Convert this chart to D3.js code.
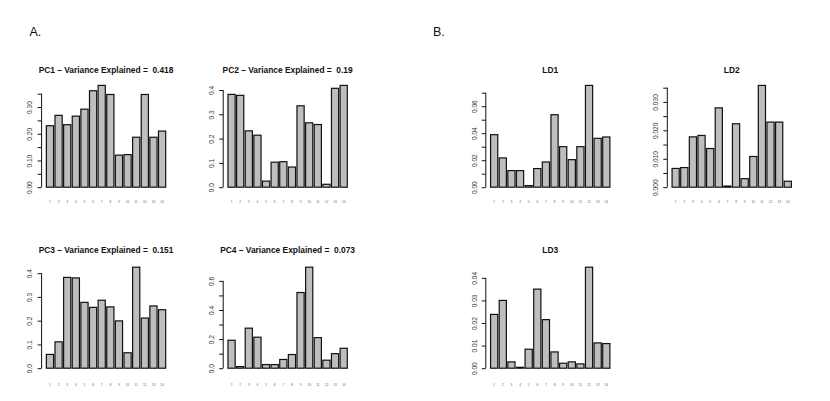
<!DOCTYPE html>
<html><head><meta charset="utf-8">
<script src="https://cdn.jsdelivr.net/npm/d3@7"></script>
<style>
html,body{margin:0;padding:0;background:#fff;}
svg{display:block;font-family:"Liberation Sans",Arial,Helvetica,sans-serif;}
text{white-space:pre;}
</style></head>
<body>
<svg id="chart" width="830" height="401"></svg>
<script>
// ---------- data ----------
const categories = ["1","2","3","4","5","6","7","8","9","10","11","12","13","14"];

const pc1 = [0.230,0.269,0.234,0.266,0.292,0.361,0.381,0.347,0.120,0.122,0.187,0.347,0.187,0.210];
const pc2 = [0.382,0.378,0.232,0.214,0.025,0.103,0.105,0.083,0.335,0.265,0.258,0.012,0.407,0.419];
const pc3 = [0.058,0.111,0.382,0.380,0.277,0.256,0.286,0.258,0.199,0.065,0.425,0.211,0.262,0.246];
const pc4 = [0.192,0.011,0.275,0.213,0.025,0.025,0.060,0.094,0.520,0.694,0.210,0.055,0.100,0.137];
const ld1 = [0.0389,0.0217,0.0123,0.0123,0.0012,0.0138,0.0187,0.0537,0.0300,0.0204,0.0300,0.0754,0.0362,0.0372];
const ld2 = [0.0066,0.0069,0.0177,0.0182,0.0136,0.0279,0.0004,0.0223,0.0030,0.0108,0.0358,0.0229,0.0229,0.0021];
const ld3 = [0.0238,0.0300,0.0028,0.0004,0.0084,0.0350,0.0215,0.0072,0.0022,0.0028,0.0019,0.0447,0.0112,0.0109];

const titles = ["PC1 \u2013 Variance Explained =  0.418","PC2 \u2013 Variance Explained =  0.19",
                "PC3 \u2013 Variance Explained =  0.151","PC4 \u2013 Variance Explained =  0.073",
                "LD1","LD2","LD3"];

const pc1Ticks = [0,0.05,0.10,0.15,0.20,0.25,0.30,0.35];
const pc1Labels = ["0.00",null,"0.10",null,"0.20",null,"0.30",null];
const pc2Ticks = [0,0.1,0.2,0.3,0.4];
const pc2Labels = ["0.0","0.1","0.2","0.3","0.4"];
const pc3Ticks = [0,0.1,0.2,0.3,0.4];
const pc3Labels = ["0.0","0.1","0.2","0.3","0.4"];
const pc4Ticks = [0,0.1,0.2,0.3,0.4,0.5,0.6];
const pc4Labels = ["0.0",null,"0.2",null,"0.4",null,"0.6"];
const ld1Ticks = [0,0.01,0.02,0.03,0.04,0.05,0.06,0.07];
const ld1Labels = ["0.00",null,"0.02",null,"0.04",null,"0.06",null];
const ld2Ticks = [0,0.005,0.010,0.015,0.020,0.025,0.030,0.035];
const ld2Labels = ["0.000",null,"0.010",null,"0.020",null,"0.030",null];
const ld3Ticks = [0,0.01,0.02,0.03,0.04];
const ld3Labels = ["0.00","0.01","0.02","0.03","0.04"];

const panelLetters = ["A.","B."];

// ---------- layout ----------
const rows = [{base:187.2, top:85.4, titleY:72.5, xLabY:202.3},
              {base:368.2, top:267.2, titleY:252.8, xLabY:384.4}];
const panels = [
  {v:pc1, ticks:pc1Ticks, labels:pc1Labels, title:titles[0], ax:41.6, row:0},
  {v:pc2, ticks:pc2Ticks, labels:pc2Labels, title:titles[1], ax:223.2, row:0},
  {v:pc3, ticks:pc3Ticks, labels:pc3Labels, title:titles[2], ax:41.6, row:1},
  {v:pc4, ticks:pc4Ticks, labels:pc4Labels, title:titles[3], ax:223.2, row:1},
  {v:ld1, ticks:ld1Ticks, labels:ld1Labels, title:titles[4], ax:485.8, row:0},
  {v:ld2, ticks:ld2Ticks, labels:ld2Labels, title:titles[5], ax:667.3, row:0},
  {v:ld3, ticks:ld3Ticks, labels:ld3Labels, title:titles[6], ax:485.8, row:1}
];
const unit = 7.187;  // px per bar unit
const svg = d3.select("#chart");

svg.append("text").attr("x",29.5).attr("y",36.3).attr("font-size",12.5).attr("fill","#111").text(panelLetters[0]);
svg.append("text").attr("x",433).attr("y",36.3).attr("font-size",12.5).attr("fill","#111").text(panelLetters[1]);

panels.forEach(p => {
  const r = rows[p.row];
  const maxV = d3.max(p.v);
  const x = d3.scaleLinear().domain([-0.464, 17.464]).range([p.ax, p.ax + 17.928*unit]);
  const y = d3.scaleLinear().domain([0, maxV]).range([r.base, r.top]);
  const g = svg.append("g");

  g.selectAll("rect.bar").data(p.v).join("rect")
    .attr("class","bar")
    .attr("x",(d,i)=>x(0.2+1.2*i))
    .attr("width",x(1)-x(0))
    .attr("y",d=>y(d))
    .attr("height",d=>y(0)-y(d))
    .attr("fill","#bebebe").attr("stroke","#111").attr("stroke-width",1.2);

  // y axis (R style)
  const axis = d3.axisLeft(y).tickValues(p.ticks).tickSize(4).tickFormat((d,i)=>p.labels[i]||"");
  const ag = g.append("g").attr("transform",`translate(${p.ax},0)`).call(axis);
  ag.select(".domain").attr("d",`M0,${y(p.ticks[0])}V${y(p.ticks[p.ticks.length-1])}`).attr("stroke","#111");
  ag.selectAll(".tick line").attr("stroke","#111");
  ag.selectAll(".tick text")
    .attr("font-size",6.6).attr("fill","#333").attr("font-family",null)
    .attr("x",null).attr("dy",null)
    .attr("text-anchor","middle")
    .attr("transform","translate(-9.3,0) rotate(-90)");

  // x category labels (drawn at 2x inside a half-scale group for grayscale anti-aliasing)
  const xg = g.append("g").attr("transform","scale(0.5)");
  xg.selectAll("text.xl").data(categories).join("text")
    .attr("class","xl")
    .attr("x",(d,i)=>2*x(0.7+1.2*i))
    .attr("y",2*(r.xLabY+1.1))
    .attr("text-anchor","middle")
    .attr("font-size",6.4).attr("fill","#666")
    .text(d=>d);

  // title
  g.append("text").attr("x",x(8.5)).attr("y",r.titleY)
    .attr("text-anchor","middle").attr("font-weight","bold")
    .attr("font-size",8.4).attr("fill","#111").text(p.title);
});
</script>
</body></html>
